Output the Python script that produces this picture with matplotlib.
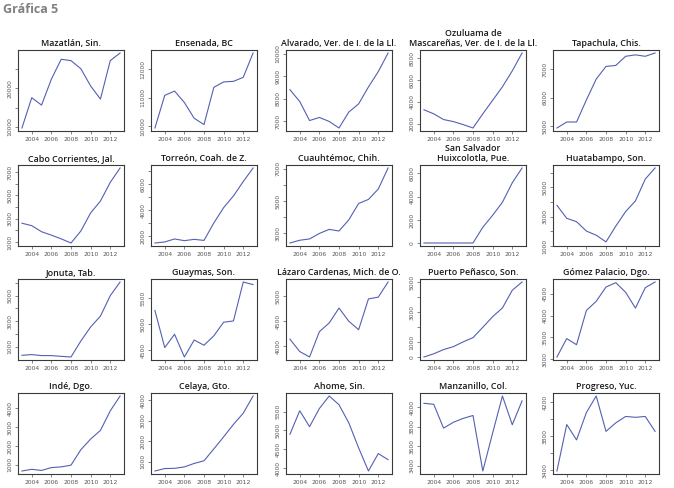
import matplotlib
matplotlib.use("Agg")
import matplotlib.pyplot as plt
import numpy as np

YEARS = np.arange(2003, 2014)

TITLES = [
    "Mazatlán, Sin.", "Ensenada, BC", "Alvarado, Ver. de I. de la Ll.",
    "Ozuluama de\nMascareñas, Ver. de I. de la Ll.", "Tapachula, Chis.",
    "Cabo Corrientes, Jal.", "Torreón, Coah. de Z.", "Cuauhtémoc, Chih.",
    "San Salvador\nHuixcolotla, Pue.", "Huatabampo, Son.",
    "Jonuta, Tab.", "Guaymas, Son.", "Lázaro Cardenas, Mich. de O.",
    "Puerto Peñasco, Son.", "Gómez Palacio, Dgo.",
    "Indé, Dgo.", "Celaya, Gto.", "Ahome, Sin.", "Manzanillo, Col.", "Progreso, Yuc.",
]

mazatlan = [9740, 17560, 15650, 22350, 27480, 27130, 25050, 20600, 17200, 27130, 29100]
ensenada = [9940, 11080, 11230, 10830, 10280, 10060, 11360, 11550, 11570, 11710, 12560]
alvarado = [8405, 7880, 7040, 7175, 7000, 6710, 7415, 7775, 8525, 9200, 10025]
ozuluama = [3290, 2920, 2400, 2215, 1940, 1630, 2920, 4150, 5385, 6830, 8460]
tapachula = [4940, 5150, 5150, 5920, 6650, 7095, 7130, 7450, 7500, 7450, 7565]
cabo = [2620, 2410, 1890, 1600, 1280, 925, 1950, 3500, 4520, 6120, 7350]
torreon = [1480, 1560, 1790, 1660, 1760, 1680, 3020, 4200, 5100, 6210, 7250]
cuauhtemoc = [2410, 2580, 2660, 3000, 3250, 3150, 3840, 4850, 5100, 5740, 7040]
san_salvador = [30, 30, 30, 30, 30, 30, 1380, 2410, 3530, 5200, 6470]
huatabampo = [3780, 2890, 2660, 2020, 1740, 1280, 2360, 3350, 4080, 5570, 6330]
jonuta = [333, 390, 310, 310, 250, 200, 1450, 2550, 3400, 5000, 6070]
guaymas = [5265, 4555, 4810, 4375, 4700, 4600, 4780, 5040, 5065, 5810, 5760]
lazaro = [4140, 3890, 3780, 4290, 4465, 4765, 4500, 4330, 4950, 4985, 5290]
penasco = [0, 215, 495, 690, 1010, 1290, 1980, 2690, 3270, 4450, 5000]
gomez = [3055, 3475, 3335, 4115, 4325, 4650, 4750, 4530, 4170, 4635, 4765]
inde = [670, 760, 700, 850, 890, 980, 1800, 2370, 2830, 3870, 4660]
celaya = [550, 670, 680, 750, 920, 1050, 1630, 2220, 2830, 3380, 4220]
ahome = [4900, 5520, 5100, 5580, 5910, 5680, 5200, 4540, 3930, 4390, 4230]
manzanillo = [4040, 4030, 3785, 3845, 3885, 3915, 3345, 3735, 4115, 3820, 4065]
progreso = [3390, 3935, 3755, 4075, 4270, 3855, 3955, 4030, 4020, 4030, 3855]

SERIES = [
    mazatlan, ensenada, alvarado, ozuluama, tapachula,
    cabo, torreon, cuauhtemoc, san_salvador, huatabampo,
    jonuta, guaymas, lazaro, penasco, gomez,
    inde, celaya, ahome, manzanillo, progreso,
]

# y ticks per panel, and the ones that carry a label
YTICKS = [
    [10000, 15000, 20000, 25000], [10000, 11000, 12000], [7000, 8000, 9000, 10000],
    [2000, 4000, 6000, 8000], [5000, 6000, 7000],
    [1000, 2000, 3000, 4000, 5000, 6000, 7000], [2000, 3000, 4000, 5000, 6000, 7000],
    [3000, 4000, 5000, 6000, 7000], [0, 2000, 4000, 6000], [1000, 2000, 3000, 4000, 5000, 6000],
    [1000, 2000, 3000, 4000, 5000, 6000], [4500, 5000, 5500], [4000, 4500, 5000],
    [0, 1000, 2000, 3000, 4000, 5000], [3000, 3500, 4000, 4500],
    [1000, 2000, 3000, 4000], [1000, 2000, 3000, 4000], [4000, 4500, 5000, 5500],
    [3400, 3600, 3800, 4000], [3400, 3600, 3800, 4000, 4200],
]
YLABELED = [
    [10000, 20000], [10000, 11000, 12000], [7000, 8000, 9000, 10000],
    [2000, 4000, 6000, 8000], [5000, 6000, 7000],
    [1000, 3000, 5000, 7000], [2000, 4000, 6000],
    [3000, 5000, 7000], [0, 2000, 4000, 6000], [1000, 3000, 5000],
    [1000, 3000, 5000], [4500, 5000, 5500], [4000, 4500, 5000],
    [0, 1000, 3000, 5000], [3000, 3500, 4000, 4500],
    [1000, 2000, 3000, 4000], [1000, 2000, 3000, 4000], [4000, 4500, 5000, 5500],
    [3400, 3600, 3800, 4000], [3400, 3800, 4200],
]
XTICKS = [2004, 2006, 2008, 2010, 2012]

LINE = "#5460b2"
FRAME = "#3a3a3a"
TICKC = "#555555"

W, H = 674, 488
COL_LEFT = [18, 151, 286, 420, 553]
ROW_TOP = [50, 165, 279, 393]
PW, PH = 106, 81

fig = plt.figure(figsize=(W / 100, H / 100), dpi=100)
fig.patch.set_facecolor("white")

for i, (title, vals) in enumerate(zip(TITLES, SERIES)):
    r, c = divmod(i, 5)
    left, top = COL_LEFT[c], ROW_TOP[r]
    ax = fig.add_axes([left / W, 1 - (top + PH) / H, PW / W, PH / H])
    ax.plot(YEARS, vals, color=LINE, lw=0.8)
    ax.set_xlim(2003 - 0.4, 2013 + 0.4)
    lo, hi = min(vals), max(vals)
    pad = (hi - lo) * 0.04
    ax.set_ylim(lo - pad, hi + pad)
    ax.set_xticks(XTICKS)
    ax.set_xticklabels([str(x) for x in XTICKS])
    ax.set_yticks(YTICKS[i])
    ax.set_yticklabels([str(t) if t in YLABELED[i] else "" for t in YTICKS[i]],
                       rotation=90, va="center")
    ax.tick_params(labelsize=4.3, length=2.5, width=0.5, colors=TICKC, pad=1.5)
    for sp in ax.spines.values():
        sp.set_color(FRAME)
        sp.set_linewidth(0.8)
    ax.set_title(title, fontsize=6.4, pad=3, family="Open Sans", fontweight="semibold",
                 color="#1a1a1a", linespacing=1.05)

fig.text(3 / W, 1 - 3 / H, "Gráfica 5", fontsize=9, fontweight="bold",
         family="Open Sans", color="#808080", va="top", ha="left")

fig.savefig("out.png", dpi=100, facecolor="white")
